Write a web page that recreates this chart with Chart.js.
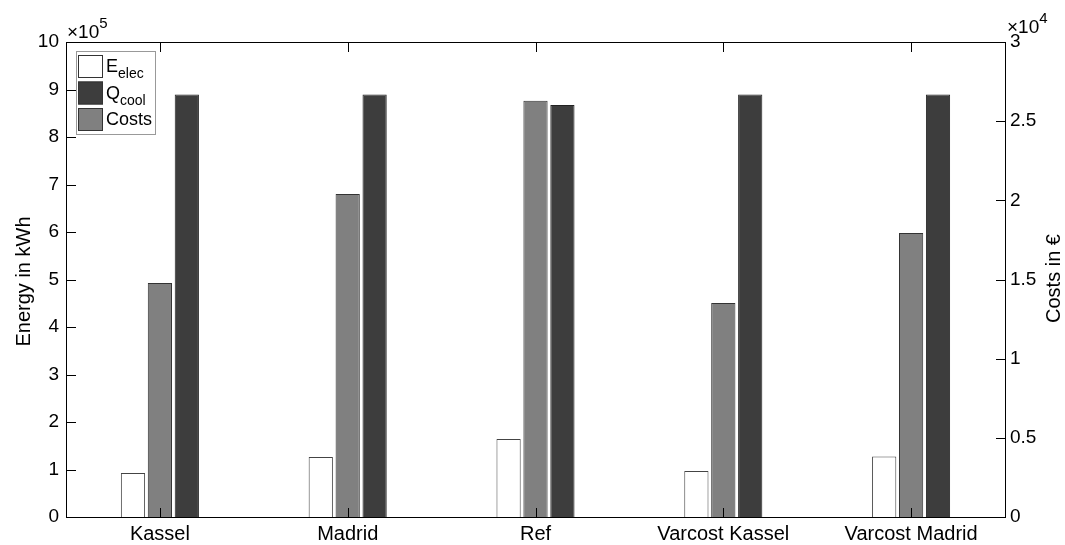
<!DOCTYPE html>
<html>
<head>
<meta charset="utf-8">
<script src="https://cdn.jsdelivr.net/npm/chart.js@4"></script>
<style>
  html, body { margin: 0; padding: 0; background: #fff; }
  canvas { display: block; }
</style>
</head>
<body>
<canvas id="chart" width="1065" height="545"></canvas>
<script>
const categories = ["Kassel", "Madrid", "Ref", "Varcost Kassel", "Varcost Madrid"];
const eElec = [92600, 126300, 164200, 96800, 127600];      // kWh
const qCool = [889700, 889700, 867400, 889700, 889700];    // kWh
const costs = [14780, 20400, 26290, 13520, 17940];         // €
const energyTicks = [0, 100000, 200000, 300000, 400000, 500000, 600000, 700000, 800000, 900000, 1000000];
const costTicks = [0, 5000, 10000, 15000, 20000, 25000, 30000];

const FONT = "'Liberation Sans', Arial, Helvetica, sans-serif";

// Matlab-like box, inward ticks, titles, exponent labels and legend
const matlabDecor = {
  id: "matlabDecor",
  afterDatasetsDraw(chart) {
    const { ctx, chartArea: a, scales } = chart;
    const px = (v) => Math.round(v) + 0.5;
    const L = Math.round(a.left), R = Math.round(a.right);
    const T = Math.round(a.top), B = Math.round(a.bottom);
    ctx.save();
    ctx.strokeStyle = "#000";
    ctx.lineWidth = 1;
    ctx.beginPath();
    ctx.moveTo(L + 0.5, T + 0.5);
    ctx.lineTo(R + 0.5, T + 0.5);
    ctx.lineTo(R + 0.5, B + 0.5);
    ctx.lineTo(L + 0.5, B + 0.5);
    ctx.closePath();
    ctx.stroke();

    ctx.beginPath();
    energyTicks.forEach((v) => {
      const y = px(scales.y.getPixelForValue(v));
      ctx.moveTo(L, y);
      ctx.lineTo(L + 10, y);
    });
    costTicks.forEach((v) => {
      const y = px(scales.y1.getPixelForValue(v));
      ctx.moveTo(R + 1, y);
      ctx.lineTo(R - 9, y);
    });
    categories.forEach((c, i) => {
      const x = px(scales.x.getPixelForTick(i));
      ctx.moveTo(x, B + 1);
      ctx.lineTo(x, B - 9);
      ctx.moveTo(x, T);
      ctx.lineTo(x, T + 10);
    });
    ctx.stroke();
    ctx.restore();
  },
  afterDraw(chart) {
    const { ctx, chartArea: a } = chart;
    ctx.save();
    ctx.fillStyle = "#000";

    // axis titles (both read bottom to top)
    ctx.font = "20px " + FONT;
    ctx.textAlign = "center";
    ctx.textBaseline = "middle";
    const midY = (a.top + a.bottom) / 2;
    ctx.save();
    ctx.translate(24, midY + 2);
    ctx.rotate(-Math.PI / 2);
    ctx.fillText("Energy in kWh", 0, 0);
    ctx.restore();
    ctx.save();
    ctx.translate(1054, midY - 1);
    ctx.rotate(-Math.PI / 2);
    ctx.fillText("Costs in €", 0, 0);
    ctx.restore();

    // exponent labels
    const expLabel = (x, exp, yb) => {
      ctx.textAlign = "left";
      ctx.textBaseline = "alphabetic";
      ctx.font = "19px " + FONT;
      ctx.fillText("×10", x, yb);
      const w = ctx.measureText("×10").width;
      ctx.font = "15px " + FONT;
      ctx.fillText(exp, x + w, yb - 10);
    };
    expLabel(a.left + 1, "5", a.top - 4);
    expLabel(a.right + 2, "4", a.top - 9);

    // legend
    const lx = a.left + 10, ly = a.top + 9, lw = 79, lh = 83;
    ctx.fillStyle = "#fff";
    ctx.fillRect(lx, ly, lw, lh);
    ctx.strokeStyle = "#999";
    ctx.lineWidth = 1;
    ctx.strokeRect(lx + 0.5, ly + 0.5, lw, lh);
    const rows = [
      { main: "E", sub: "elec", fill: "#ffffff" },
      { main: "Q", sub: "cool", fill: "#3d3d3d" },
      { main: "Costs", sub: "", fill: "#808080" }
    ];
    rows.forEach((r, i) => {
      const ry = ly + 4 + i * 26.5;
      ctx.fillStyle = r.fill;
      ctx.fillRect(lx + 2, ry, 25, 23);
      ctx.strokeStyle = "#333";
      ctx.strokeRect(lx + 2.5, ry + 0.5, 24, 22);
      ctx.fillStyle = "#000";
      ctx.textAlign = "left";
      ctx.textBaseline = "alphabetic";
      ctx.font = "18px " + FONT;
      ctx.fillText(r.main, lx + 30, ry + 17);
      if (r.sub) {
        const w = ctx.measureText(r.main).width;
        ctx.font = "14px " + FONT;
        ctx.fillText(r.sub, lx + 30 + w, ry + 23);
      }
    });
    ctx.restore();
  }
};

new Chart(document.getElementById("chart"), {
  type: "bar",
  data: {
    labels: categories,
    datasets: [
      {
        label: "E_elec",
        data: eElec,
        yAxisID: "y",
        backgroundColor: "#ffffff",
        borderColor: "#444",
        borderWidth: 1
      },
      {
        label: "Costs",
        data: costs,
        yAxisID: "y1",
        backgroundColor: "#808080",
        borderColor: "#333",
        borderWidth: 1
      },
      {
        label: "Q_cool",
        data: qCool,
        yAxisID: "y",
        backgroundColor: "#3d3d3d",
        borderColor: "#222",
        borderWidth: 1
      }
    ]
  },
  options: {
    responsive: false,
    animation: false,
    categoryPercentage: 0.43,
    barPercentage: 0.9,
    layout: { padding: { top: 42, left: 0, right: 0, bottom: 0 } },
    plugins: {
      legend: { display: false },
      tooltip: { enabled: false }
    },
    scales: {
      x: {
        grid: { display: false, drawTicks: false },
        border: { display: false },
        ticks: {
          color: "#000",
          font: { family: FONT, size: 20 },
          padding: 5,
          autoSkip: false,
          maxRotation: 0
        },
        afterFit: (s) => { s.height = 28; }
      },
      y: {
        position: "left",
        min: 0,
        max: 1000000,
        afterBuildTicks: (s) => { s.ticks = energyTicks.map((v) => ({ value: v })); },
        grid: { display: false, drawTicks: false },
        border: { display: false },
        ticks: {
          color: "#000",
          font: { family: FONT, size: 19 },
          padding: 7,
          callback: (v) => v / 100000
        },
        afterFit: (s) => { s.width = 66; }
      },
      y1: {
        position: "right",
        min: 0,
        max: 30000,
        afterBuildTicks: (s) => { s.ticks = costTicks.map((v) => ({ value: v })); },
        grid: { display: false, drawTicks: false },
        border: { display: false },
        ticks: {
          color: "#000",
          font: { family: FONT, size: 19 },
          padding: 5,
          callback: (v) => v / 10000
        },
        afterFit: (s) => { s.width = 60; }
      }
    }
  },
  plugins: [matlabDecor]
});
</script>
</body>
</html>
